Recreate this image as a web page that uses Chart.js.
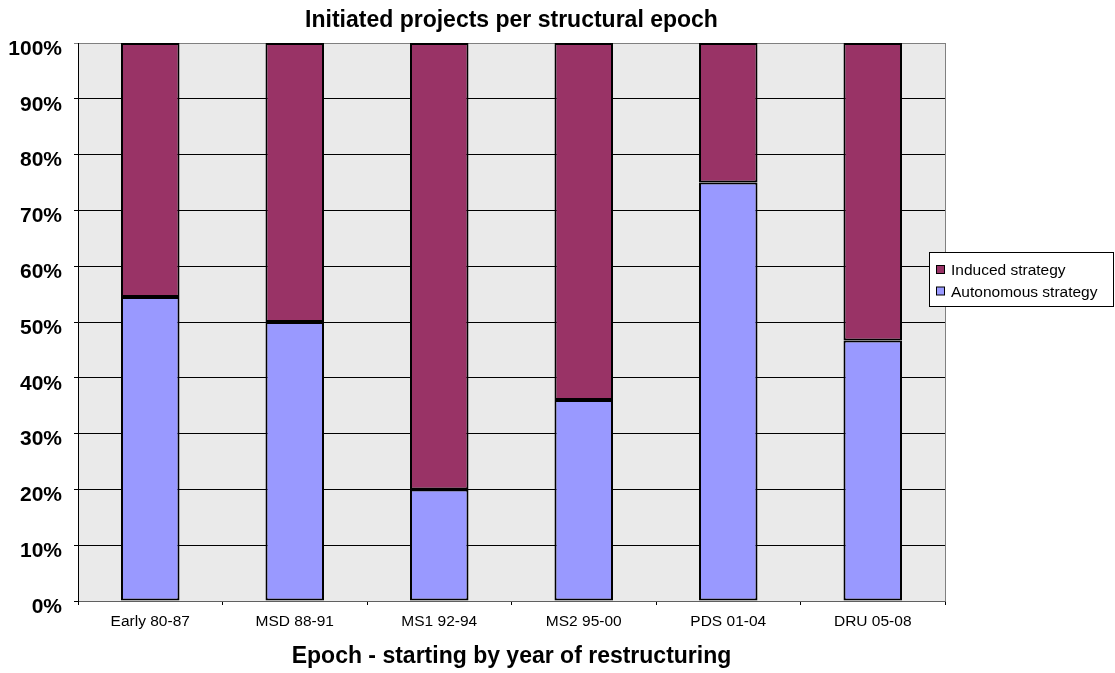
<!DOCTYPE html>
<html>
<head>
<meta charset="utf-8">
<script src="https://cdn.jsdelivr.net/npm/chart.js@4/dist/chart.umd.min.js"></script>
<style>
  html, body { margin: 0; padding: 0; background: #fff; }
  #wrap { width: 1115px; height: 673px; }
</style>
</head>
<body>
<div id="wrap"><canvas id="epochChart" width="1115" height="673"></canvas></div>
<script>
const epochs = ['Early 80-87', 'MSD 88-91', 'MS1 92-94', 'MS2 95-00', 'PDS 01-04', 'DRU 05-08'];
const autonomous = [54.5, 50, 20, 36, 75, 46.7];
const induced = [45.5, 50, 80, 64, 25, 53.3];
const percentTicks = [0, 10, 20, 30, 40, 50, 60, 70, 80, 90, 100];
const chartTitle = 'Initiated projects per structural epoch';

const FONT = 'Arial, "Liberation Sans", sans-serif';

// grey plot background with a thin grey frame
const plotBackground = {
    id: 'plotBackground',
    beforeDraw(chart) {
        const { ctx, chartArea: a } = chart;
        ctx.save();
        ctx.fillStyle = '#eaeaea';
        ctx.fillRect(a.left, a.top, a.right - a.left, a.bottom - a.top);
        ctx.strokeStyle = '#808080';
        ctx.lineWidth = 1;
        ctx.strokeRect(a.left + 0.5, a.top + 0.5, a.right - a.left, a.bottom - a.top);
        ctx.restore();
    }
};

// title centred over the plot area rather than the whole canvas
const plotTitle = {
    id: 'plotTitle',
    afterDraw(chart) {
        const { ctx, chartArea: a } = chart;
        ctx.save();
        ctx.fillStyle = '#000';
        ctx.font = 'bold 23px ' + FONT;
        ctx.textAlign = 'center';
        ctx.textBaseline = 'middle';
        ctx.fillText(chartTitle, (a.left + a.right) / 2, 21);
        ctx.restore();
    }
};

// boxed legend on the right, induced listed first
const boxLegend = {
    id: 'boxLegend',
    afterDraw(chart) {
        const ctx = chart.ctx;
        const entries = [chart.data.datasets[1], chart.data.datasets[0]];
        ctx.save();
        ctx.fillStyle = '#fff';
        ctx.fillRect(929.5, 252.5, 184, 54);
        ctx.strokeStyle = '#000';
        ctx.lineWidth = 1;
        ctx.strokeRect(929.5, 252.5, 184, 54);
        ctx.font = '15.5px ' + FONT;
        ctx.textBaseline = 'middle';
        entries.forEach((ds, i) => {
            const y = 270 + i * 21.5;
            ctx.fillStyle = ds.backgroundColor;
            ctx.fillRect(936.5, y - 4.5, 8, 8);
            ctx.strokeRect(936.5, y - 4.5, 8, 8);
            ctx.fillStyle = '#000';
            ctx.fillText(ds.label, 951, y + 1);
        });
        ctx.restore();
    }
};

new Chart(document.getElementById('epochChart').getContext('2d'), {
    type: 'bar',
    data: {
        labels: epochs,
        datasets: [{
            label: 'Autonomous strategy',
            data: autonomous,
            backgroundColor: '#9999ff',
            borderColor: '#000',
            borderWidth: 2,
            borderSkipped: false,
            categoryPercentage: 1,
            barPercentage: 0.405
        }, {
            label: 'Induced strategy',
            data: induced,
            backgroundColor: '#993366',
            borderColor: '#000',
            borderWidth: 2,
            borderSkipped: false,
            categoryPercentage: 1,
            barPercentage: 0.405
        }]
    },
    plugins: [plotBackground, plotTitle, boxLegend],
    options: {
        responsive: false,
        animation: false,
        layout: { padding: { left: 0, right: 170, top: 43, bottom: 0 } },
        plugins: {
            legend: { display: false },
            tooltip: { enabled: false },
            title: { display: false }
        },
        scales: {
            x: {
                stacked: true,
                afterFit: s => { s.height = 72; },
                grid: { drawOnChartArea: false, drawTicks: true, tickLength: 4, color: '#000' },
                border: { color: '#606060', width: 1 },
                ticks: { color: '#000', font: { family: FONT, size: 15.5 }, padding: 7, maxRotation: 0 },
                title: {
                    display: true,
                    text: 'Epoch - starting by year of restructuring',
                    color: '#000',
                    font: { family: FONT, size: 23, weight: 'bold' },
                    padding: { top: 0, bottom: 3 }
                }
            },
            y: {
                stacked: true,
                min: 0,
                max: 100,
                afterFit: s => { s.width = 78; },
                afterBuildTicks: s => { s.ticks = percentTicks.map(v => ({ value: v })); },
                grid: {
                    color: c => (c.tick && c.tick.value === 100 ? '#808080' : '#000'),
                    lineWidth: 1,
                    tickLength: 4
                },
                border: { color: '#000', width: 1 },
                ticks: {
                    color: '#000',
                    font: { family: FONT, size: 21, weight: 'bold' },
                    padding: 12,
                    labelOffset: 6,
                    callback: v => v + '%'
                }
            }
        }
    }
});
</script>
</body>
</html>
